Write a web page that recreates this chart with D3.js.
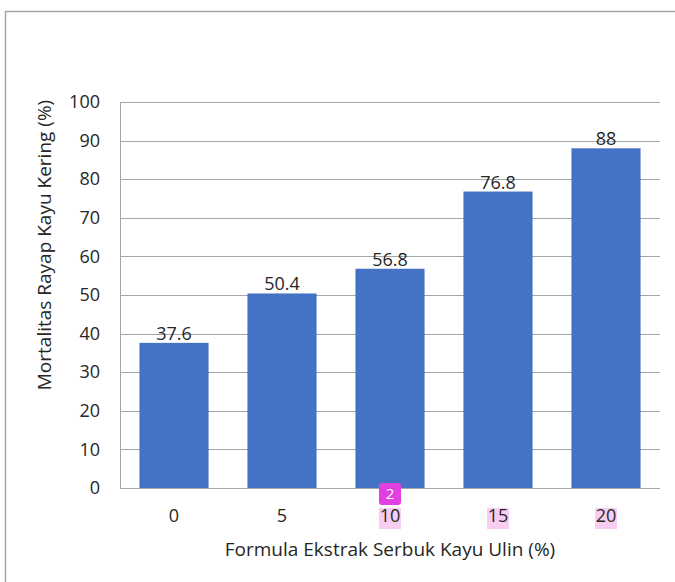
<!DOCTYPE html>
<html>
<head>
<meta charset="utf-8">
<script src="https://cdn.jsdelivr.net/npm/d3@7"></script>
<style>
  body { margin: 0; background: #fff; }
  svg text { font-family: "Open Sans", "Noto Sans", sans-serif; }
</style>
</head>
<body>
<svg width="675" height="582"></svg>
<script>
let categories = ['0', '5', '10', '15', '20'];
let values = [37.6, 50.4, 56.8, 76.8, 88];
let yTicks = [0, 10, 20, 30, 40, 50, 60, 70, 80, 90, 100];
let highlighted = ['10', '15', '20'];

let svgWidth = 675;
let svgHeight = 582;

let marginLeft = 120;
let marginRight = 15;
let marginTop = 102;
let marginBottom = 94;

let canvasWidth = svgWidth - marginLeft - marginRight;
let canvasHeight = svgHeight - marginTop - marginBottom;

let svg = d3.select('svg');

// outer frame (top + left only visible)
svg.append('path')
  .attr('d', `M5.5,${svgHeight} V11.5 H${svgWidth}`)
  .attr('fill', 'none')
  .attr('stroke', '#a6a6a6')
  .attr('stroke-width', 1.5);

let xScale = d3.scaleBand()
  .domain(categories)
  .range([0, canvasWidth])
  .paddingInner(0.36)
  .paddingOuter(0.18);

let yScale = d3.scaleLinear().domain([0, 100]).range([canvasHeight, 0]);

let canvas = svg.append('g')
  .attr('transform', `translate(${marginLeft},${marginTop})`);

// gridlines
canvas.append('g')
  .selectAll('line')
  .data(yTicks)
  .enter()
  .append('line')
  .attr('x1', 0)
  .attr('x2', canvasWidth)
  .attr('y1', (d) => Math.round(yScale(d)) + 0.5)
  .attr('y2', (d) => Math.round(yScale(d)) + 0.5)
  .attr('stroke', '#a6a6a6')
  .attr('stroke-width', 1);

// left axis line
canvas.append('line')
  .attr('x1', 0.5).attr('x2', 0.5)
  .attr('y1', yScale(100)).attr('y2', yScale(0))
  .attr('stroke', '#a6a6a6');

let yAxis = d3.axisLeft(yScale).tickValues(yTicks).tickSize(0).tickPadding(20);
let yAxisG = canvas.append('g').call(yAxis);
yAxisG.select('.domain').remove();
yAxisG.selectAll('text')
  .attr('font-size', 18)
  .attr('fill', '#262626');

// bars
canvas.selectAll('rect.bar')
  .data(values)
  .enter()
  .append('rect')
  .attr('class', 'bar')
  .attr('x', (d, i) => xScale(categories[i]))
  .attr('y', (d) => yScale(d))
  .attr('width', xScale.bandwidth())
  .attr('height', (d) => yScale(0) - yScale(d))
  .attr('fill', '#4472c4');

// data labels
canvas.selectAll('text.lbl')
  .data(values)
  .enter()
  .append('text')
  .attr('class', 'lbl')
  .attr('x', (d, i) => xScale(categories[i]) + xScale.bandwidth() / 2)
  .attr('y', (d) => yScale(d) - 3)
  .attr('text-anchor', 'middle')
  .attr('font-size', 18)
  .attr('fill', '#262626')
  .text((d) => d);

// highlight boxes behind some x tick labels
canvas.selectAll('rect.hl')
  .data(highlighted)
  .enter()
  .append('rect')
  .attr('class', 'hl')
  .attr('x', (d) => xScale(d) + xScale.bandwidth() / 2 - 11)
  .attr('y', canvasHeight + 20)
  .attr('width', 22)
  .attr('height', 21)
  .attr('fill', '#f8cdf1');

let xAxis = d3.axisBottom(xScale).tickSize(0).tickPadding(21);
let xAxisG = canvas.append('g')
  .attr('transform', `translate(0,${canvasHeight})`)
  .call(xAxis);
xAxisG.select('.domain').remove();
xAxisG.selectAll('text')
  .attr('font-size', 18)
  .attr('fill', '#262626');

// annotation badge
let badge = canvas.append('g')
  .attr('transform', `translate(${xScale('10') + xScale.bandwidth() / 2},${canvasHeight + 6})`);
badge.append('rect')
  .attr('x', -11).attr('y', -11)
  .attr('width', 22).attr('height', 22)
  .attr('rx', 3)
  .attr('fill', '#e23fe0');
badge.append('text')
  .attr('text-anchor', 'middle')
  .attr('dy', '0.36em')
  .attr('font-size', 15)
  .attr('fill', '#fff')
  .text('2');

// axis titles
svg.append('text')
  .attr('x', 390)
  .attr('y', 556)
  .attr('text-anchor', 'middle')
  .attr('font-size', 19)
  .attr('fill', '#262626')
  .text('Formula Ekstrak Serbuk Kayu Ulin (%)');

svg.append('text')
  .attr('transform', `translate(51,245) rotate(-90)`)
  .attr('text-anchor', 'middle')
  .attr('font-size', 19)
  .attr('fill', '#262626')
  .text('Mortalitas Rayap Kayu Kering (%)');
</script>
</body>
</html>
